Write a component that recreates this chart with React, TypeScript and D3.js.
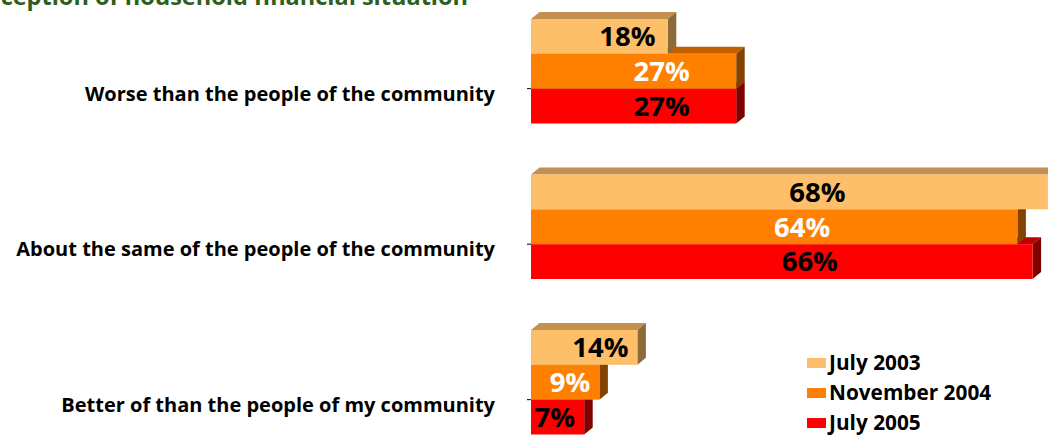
import React from "react";
import * as d3 from "d3";

const categories = [
  "Worse than the people of the community",
  "About the same of the people of the community",
  "Better of than the people of my community",
];
const seriesNames = ["July 2003", "November 2004", "July 2005"];
const july2003 = [18, 68, 14];
const november2004 = [27, 64, 9];
const july2005 = [27, 66, 7];
const seriesValues = [july2003, november2004, july2005];
const title = "Perception of household financial situation";

const frontColors = ["#FEBF6A", "#FF8000", "#FF0000"];
const topColors = ["#C4904F", "#C26000", "#C00000"];
const sideColors = ["#8C6A3A", "#844200", "#800000"];
const labelColors = ["#000000", "#FFFFFF", "#000000"];

const W = 1048;
const H = 435;
const DX = 8.5;
const DY = 7;
const FONT = "'Open Sans', 'Noto Sans', sans-serif";

export default function App() {
  const x = d3.scaleLinear().domain([0, 100]).range([531, 531 + 760]);
  const groupY = d3.scalePoint<string>().domain(categories).range([19, 330]);
  const barY = d3
    .scaleBand<string>()
    .domain(seriesNames)
    .range([0, 104.5])
    .padding(0);
  const bh = barY.bandwidth();
  const labelSize = 27.5;

  const bars: React.ReactNode[] = [];
  categories.forEach((cat, ci) => {
    const g0 = groupY(cat)!;
    for (let si = seriesNames.length - 1; si >= 0; si--) {
      const v = seriesValues[si][ci];
      const x0 = x(0);
      const x1 = x(v);
      const y0 = g0 + barY(seriesNames[si])!;
      const y1 = y0 + bh;
      const top = `M${x0},${y0} L${x0 + DX},${y0 - DY} L${x1 + DX},${y0 - DY} L${x1},${y0} Z`;
      const side = `M${x1},${y0} L${x1 + DX},${y0 - DY} L${x1 + DX},${y1 - DY} L${x1},${y1} Z`;
      const label = `${v}%`;
      const tw = labelSize * (0.572 * String(v).length + 0.84) * 0.95;
      const cx = Math.min((x0 + x1) / 2 + 28, x1 - 11 - tw / 2);
      bars.push(
        <g key={`${ci}-${si}`}>
          <path d={top} fill={topColors[si]} />
          <path d={side} fill={sideColors[si]} />
          <rect x={x0} y={y0} width={x1 - x0} height={bh} fill={frontColors[si]} />
          <text
            x={cx}
            y={(y0 + y1) / 2}
            dy="0.36em"
            textAnchor="middle"
            fontFamily={FONT}
            fontWeight={700}
            fontSize={labelSize}
            fill={labelColors[si]}
          >
            {label}
          </text>
        </g>
      );
    }
  });

  const catLabels = categories.map((cat) => {
    const yb = groupY(cat)! + barY(seriesNames[2])!;
    return (
      <g key={cat}>
        <line x1={527} x2={531} y1={yb} y2={yb} stroke="#000" strokeWidth={1} />
        <text
          x={495}
          y={yb + 5}
          dy="0.35em"
          textAnchor="end"
          fontFamily={FONT}
          fontWeight={700}
          fontSize={20}
          fill="#000"
        >
          {cat}
        </text>
      </g>
    );
  });

  const legendY = d3.scalePoint<string>().domain(seriesNames).range([363, 423]);
  const legend = seriesNames.map((s, si) => (
    <g key={s}>
      <rect x={807} y={legendY(s)! - 5} width={19} height={10} fill={frontColors[si]} />
      <text
        x={829}
        y={legendY(s)!}
        dy="0.36em"
        fontFamily={FONT}
        fontWeight={700}
        fontSize={20.8}
        fill="#000"
      >
        {s}
      </text>
    </g>
  ));

  return (
    <svg
      width={W}
      height={H}
      style={{ position: "absolute", left: 0, top: 0, background: "#fff" }}
    >
      <text
        x={468}
        y={5}
        textAnchor="end"
        fontFamily={FONT}
        fontWeight={700}
        fontSize={23.5}
        fill="#2E5E1E"
      >
        {title}
      </text>
      {bars}
      {catLabels}
      {legend}
    </svg>
  );
}
